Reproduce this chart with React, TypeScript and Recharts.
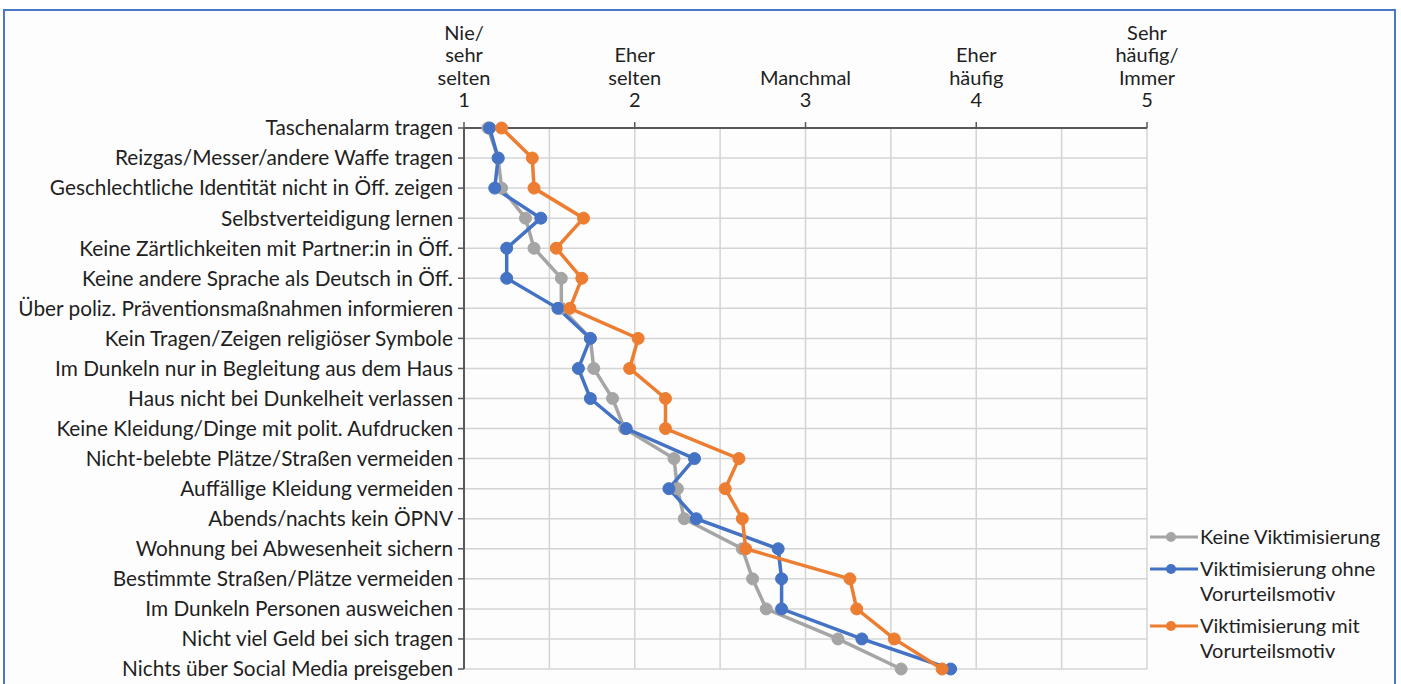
import { LineChart, Line, XAxis, YAxis, CartesianGrid } from "recharts";

const categories = [
  "Taschenalarm tragen",
  "Reizgas/Messer/andere Waffe tragen",
  "Geschlechtliche Identität nicht in Öff. zeigen",
  "Selbstverteidigung lernen",
  "Keine Zärtlichkeiten mit Partner:in in Öff.",
  "Keine andere Sprache als Deutsch in Öff.",
  "Über poliz. Präventionsmaßnahmen informieren",
  "Kein Tragen/Zeigen religiöser Symbole",
  "Im Dunkeln nur in Begleitung aus dem Haus",
  "Haus nicht bei Dunkelheit verlassen",
  "Keine Kleidung/Dinge mit polit. Aufdrucken",
  "Nicht-belebte Plätze/Straßen vermeiden",
  "Auffällige Kleidung vermeiden",
  "Abends/nachts kein ÖPNV",
  "Wohnung bei Abwesenheit sichern",
  "Bestimmte Straßen/Plätze vermeiden",
  "Im Dunkeln Personen ausweichen",
  "Nicht viel Geld bei sich tragen",
  "Nichts über Social Media preisgeben",
];

const keineViktimisierung = [1.14, 1.2, 1.22, 1.36, 1.41, 1.57, 1.57, 1.74, 1.76, 1.87, 1.94, 2.23, 2.25, 2.29, 2.63, 2.69, 2.77, 3.19, 3.56];
const ohneVorurteil = [1.15, 1.2, 1.18, 1.45, 1.25, 1.25, 1.55, 1.74, 1.67, 1.74, 1.95, 2.35, 2.2, 2.36, 2.84, 2.86, 2.86, 3.33, 3.85];
const mitVorurteil = [1.22, 1.4, 1.41, 1.7, 1.54, 1.69, 1.62, 2.02, 1.97, 2.18, 2.18, 2.61, 2.53, 2.63, 2.65, 3.26, 3.3, 3.52, 3.8];

const scaleTicks = [1, 1.5, 2, 2.5, 3, 3.5, 4, 4.5, 5];
const scaleLabels = [
  ["Nie/", "sehr", "selten", "1"],
  ["Eher", "selten", "2"],
  ["Manchmal", "3"],
  ["Eher", "häufig", "4"],
  ["Sehr", "häufig/", "Immer", "5"],
];

const seriesInfo = [
  { key: "keine", lines: ["Keine Viktimisierung"], color: "#a5a5a5" },
  { key: "ohne", lines: ["Viktimisierung ohne", "Vorurteilsmotiv"], color: "#4472c4" },
  { key: "mit", lines: ["Viktimisierung mit", "Vorurteilsmotiv"], color: "#ed7d31" },
];

const data = categories.map((name, i) => ({
  name,
  keine: keineViktimisierung[i],
  ohne: ohneVorurteil[i],
  mit: mitVorurteil[i],
}));

const FONT = "Lato, 'Open Sans', sans-serif";
const TEXT = "#1f1f1f";

function TopTick({ x, y, payload }: any) {
  const v = payload.value as number;
  if (!Number.isInteger(v)) return <g />;
  const lines = scaleLabels[v - 1];
  const axisY = y + 8;
  return (
    <g>
      <line x1={x} x2={x} y1={axisY} y2={axisY - 6} stroke="#595959" strokeWidth={1.5} />
      {lines.map((t, i) => (
        <text
          key={i}
          x={x}
          y={y - 13 - (lines.length - 1 - i) * 22.5}
          textAnchor="middle"
          fontSize={20}
          fontFamily={FONT}
          fill={TEXT}
        >
          {t}
        </text>
      ))}
    </g>
  );
}

function LegendBox() {
  return (
    <div
      style={{
        position: "absolute",
        left: 1148,
        top: 524,
        fontFamily: FONT,
        fontSize: 20,
        color: TEXT,
        lineHeight: "25px",
      }}
    >
      {seriesInfo.map((s) => (
        <div key={s.key} style={{ display: "flex", alignItems: "flex-start", marginBottom: 7 }}>
          <svg width={52} height={25} style={{ flex: "none" }}>
            <line x1={2} x2={50} y1={13} y2={13} stroke={s.color} strokeWidth={3} />
            <circle cx={23} cy={13} r={5} fill={s.color} />
          </svg>
          <div>
            {s.lines.map((l, i) => (
              <div key={i}>{l}</div>
            ))}
          </div>
        </div>
      ))}
    </div>
  );
}

export default function App() {
  return (
    <div style={{ position: "relative", width: 1401, height: 684, overflow: "hidden", background: "#fff" }}>
      <style>{"body{margin:0;}"}</style>
      <div
        style={{
          position: "absolute",
          left: 3,
          top: 9,
          width: 1389,
          height: 700,
          border: "2px solid #4a78c8",
          background: "#fdfdfd",
        }}
      />
      <div style={{ position: "absolute", left: 0, top: 0 }}>
        <LineChart
          width={1401}
          height={684}
          data={data}
          layout="vertical"
          margin={{ top: 10, right: 254, bottom: 15, left: 0 }}
        >
          <CartesianGrid stroke="#d4d4d4" strokeWidth={1.5} />
          <XAxis
            type="number"
            orientation="top"
            domain={[1, 5]}
            ticks={scaleTicks}
            height={118}
            tickLine={false}
            axisLine={{ stroke: "#595959", strokeWidth: 2 }}
            tick={<TopTick />}
            interval={0}
          />
          <YAxis
            type="category"
            dataKey="name"
            scale="point"
            padding={{ top: 0, bottom: 0 }}
            width={464}
            interval={0}
            tickSize={6}
            tickMargin={5}
            axisLine={{ stroke: "#595959", strokeWidth: 2 }}
            tickLine={{ stroke: "#595959", strokeWidth: 1.5 }}
            tick={{ fontSize: 20.8, fontFamily: FONT, fill: TEXT }}
          />
          {seriesInfo.map((s) => (
            <Line
              key={s.key}
              dataKey={s.key}
              stroke={s.color}
              strokeWidth={3.5}
              dot={{ r: 6, fill: s.color, stroke: s.color, strokeWidth: 1 }}
              isAnimationActive={false}
            />
          ))}
        </LineChart>
      </div>
      <LegendBox />
    </div>
  );
}
